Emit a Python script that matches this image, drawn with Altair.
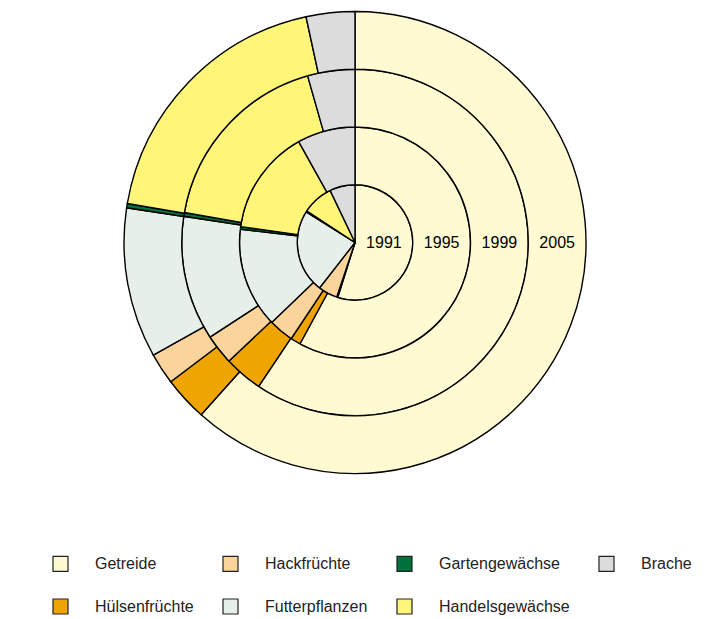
import math
import altair as alt
import pandas as pd

# ---- data (shares of arable land, %) ----
years = ["1991", "1995", "1999", "2005"]
categories = ["Getreide", "Hülsenfrüchte", "Hackfrüchte", "Futterpflanzen",
              "Gartengewächse", "Handelsgewächse", "Brache"]
colors = ["#FFFAD2", "#EEA500", "#FAD49A", "#E6F0E8", "#00703C", "#FFF578", "#DCDCDC"]

share_1991 = [54.9, 0.3, 5.4, 23.4, 0.3, 8.7, 7.1]
share_1995 = [57.9, 1.4, 3.5, 14.0, 0.36, 14.7, 8.1]
share_1999 = [59.3, 3.6, 2.8, 11.6, 0.35, 17.8, 4.4]
share_2005 = [61.6, 3.1, 2.2, 10.5, 0.3, 18.9, 3.4]

# legend is filled column-wise in the reference (2 rows x 4 columns)
legend_order = ["Getreide", "Hackfrüchte", "Gartengewächse", "Brache",
                "Hülsenfrüchte", "Futterpflanzen", "Handelsgewächse"]
legend_colors = [colors[categories.index(c)] for c in legend_order]

shares = [share_1991, share_1995, share_1999, share_2005]
rows = []
for ring, (yr, vals) in enumerate(zip(years, shares)):
    for k, (cat, v) in enumerate(zip(categories, vals)):
        rows.append({"year": yr, "ring": ring, "category": cat, "order": k, "share": v})
df = pd.DataFrame(rows)

lab_df = pd.DataFrame({"year": years, "ring": list(range(len(years)))})

FONT = "Liberation Sans, Arial, Helvetica, sans-serif"

theta_scale = alt.Scale(domain=[0, 1], range=[0, 2 * math.pi])
radius_scale = alt.Scale(type="linear", domain=[0, len(years)], range=[0, 231], zero=True)

arcs = (
    alt.Chart(df)
    .transform_stack(stack="share", groupby=["year"], as_=["s0", "s1"],
                     sort=[alt.SortField("order", order="ascending")], offset="normalize")
    .transform_calculate(r1="datum.ring + 1")
    .mark_arc(stroke="black", strokeWidth=1.4)
    .encode(
        theta=alt.Theta("s0:Q", scale=theta_scale),
        theta2="s1:Q",
        radius=alt.Radius("ring:Q", scale=radius_scale),
        radius2="r1:Q",
        color=alt.Color(
            "category:N",
            scale=alt.Scale(domain=legend_order, range=legend_colors),
            legend=alt.Legend(
                title=None, orient="none", legendX=44, legendY=546,
                direction="horizontal", columns=4,
                symbolType="square", symbolSize=225,
                symbolStrokeColor="#222222", symbolStrokeWidth=1.2,
                labelFontSize=16, labelFont=FONT, labelColor="#222222",
                labelOffset=26, columnPadding=26, rowPadding=22,
                padding=0, gridAlign="each", labelLimit=400,
            ),
        ),
    )
)

labels = (
    alt.Chart(lab_df)
    .transform_calculate(mid="datum.ring + 0.5", pos="0.25")
    .mark_text(fontSize=16, font=FONT, color="black", align="center", baseline="middle")
    .encode(
        theta=alt.Theta("pos:Q", scale=theta_scale),
        radius=alt.Radius("mid:Q", scale=radius_scale),
        text="year:N",
    )
)

chart = (
    alt.layer(arcs, labels)
    .properties(width=694, height=467, padding=0, background="white")
    .configure_view(stroke=None)
)

chart.save("out.html", embed_options={"renderer": "svg", "actions": False})
